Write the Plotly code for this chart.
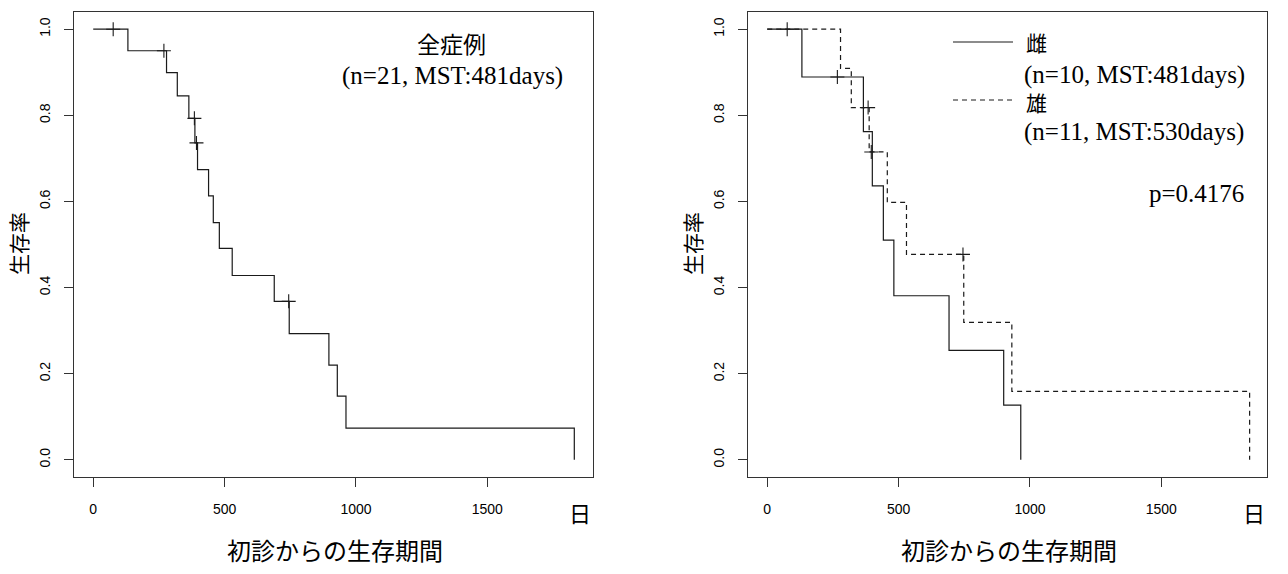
import plotly.graph_objects as go

# ---------------- data ----------------
# Left panel: all cases (n=21)
all_times = [0, 132, 279, 320, 364, 387, 397, 439, 457, 480, 529, 689, 746, 897, 929, 962, 1831]
all_surv = [1.0, 0.950, 0.899, 0.845, 0.793, 0.736, 0.674, 0.613, 0.551, 0.491, 0.428, 0.368, 0.293, 0.220, 0.148, 0.0735, 0.0]
all_cens_t = [76, 269, 385, 393, 744]
all_cens_s = [1.0, 0.950, 0.793, 0.736, 0.368]

# Right panel: female (solid)
fem_times = [0, 132, 366, 400, 442, 482, 692, 900, 965]
fem_surv = [1.0, 0.889, 0.762, 0.636, 0.510, 0.381, 0.254, 0.127, 0.0]
fem_cens_t = [76, 267]
fem_cens_s = [1.0, 0.889]

# Right panel: male (dashed)
male_times = [0, 279, 320, 388, 457, 530, 748, 931, 1836]
male_surv = [1.0, 0.909, 0.818, 0.715, 0.598, 0.477, 0.319, 0.159, 0.0]
male_cens_t = [384, 396, 745]
male_cens_s = [0.818, 0.715, 0.477]

x_ticks = [0, 500, 1000, 1500]
y_ticks = [0.0, 0.2, 0.4, 0.6, 0.8, 1.0]

left_title = "全症例"
left_sub = "(n=21, MST:481days)"
fem_label = "雌"
fem_sub = "(n=10, MST:481days)"
male_label = "雄"
male_sub = "(n=11, MST:530days)"
p_text = "p=0.4176"
x_title = "初診からの生存期間"
y_title = "生存率"
unit = "日"

# ---------------- layout helpers ----------------
W, H = 1288, 574
def fx(x):
    return x / W
def fy(y):
    return 1 - y / H

INK = "#1a1a1a"
LW = 1.2
SANS = "Liberation Sans"
SERIF = "Liberation Serif"
CJK = "Noto Sans CJK JP"

fig = go.Figure()

def step(x, y, xa, ya, dash="solid"):
    fig.add_trace(go.Scatter(x=x, y=y, mode="lines", line_shape="hv",
                             line=dict(color=INK, width=LW, dash=dash),
                             xaxis=xa, yaxis=ya, hoverinfo="skip"))

def cens(x, y, xa, ya):
    fig.add_trace(go.Scatter(x=x, y=y, mode="markers",
                             marker=dict(symbol="cross-thin", size=10,
                                         line=dict(color=INK, width=1.1)),
                             xaxis=xa, yaxis=ya, hoverinfo="skip"))

step(all_times, all_surv, "x", "y")
cens(all_cens_t, all_cens_s, "x", "y")
step(fem_times, fem_surv, "x2", "y2")
cens(fem_cens_t, fem_cens_s, "x2", "y2")
step(male_times, male_surv, "x2", "y2", dash="5px,4px")
cens(male_cens_t, male_cens_s, "x2", "y2")

xmax = 1829
xr = [-0.04 * xmax, 1.04 * xmax]
yr = [-0.04, 1.04]

common_x = dict(range=xr, tickvals=x_ticks, ticks="outside", ticklen=9, tickwidth=1,
                tickcolor="#333", showline=True, mirror=True, linecolor="#333", linewidth=1,
                showgrid=False, zeroline=False, ticklabelstandoff=10,
                tickfont=dict(family=SANS, size=14, color="black"), fixedrange=True)
common_y = dict(range=yr, tickvals=y_ticks, tickformat=".1f", ticks="outside", ticklen=9,
                tickwidth=1, tickcolor="#333", showline=True, mirror=True, linecolor="#333",
                linewidth=1, showgrid=False, zeroline=False, tickangle=-90, ticklabelstandoff=8,
                tickfont=dict(family=SANS, size=14, color="black"), fixedrange=True)

fig.update_layout(
    width=W, height=H, margin=dict(l=0, r=0, t=0, b=0, pad=0),
    paper_bgcolor="white", plot_bgcolor="white", showlegend=False,
    xaxis=dict(domain=[fx(74), fx(593)], anchor="y", **common_x),
    yaxis=dict(domain=[fy(477), fy(12)], anchor="x", **common_y),
    xaxis2=dict(domain=[fx(748), fx(1267)], anchor="y2", **common_x),
    yaxis2=dict(domain=[fy(477), fy(12)], anchor="x2", **common_y),
)

ann = []
def text(t, x, y, fam, size, xanchor="center", textangle=0):
    ann.append(dict(text=t, x=fx(x), y=fy(y), xref="paper", yref="paper",
                    showarrow=False, xanchor=xanchor, yanchor="middle",
                    textangle=textangle,
                    font=dict(family=fam, size=size, color="black")))

# left panel texts
text(left_title, 451, 43, CJK, 23)
text(left_sub, 452, 76, SERIF, 25)
# right panel legend + p-value
text(fem_label, 1024, 42, CJK, 21, xanchor="left")
text(fem_sub, 1022, 75, SERIF, 25, xanchor="left")
text(male_label, 1024, 102, CJK, 21, xanchor="left")
text(male_sub, 1022, 132, SERIF, 25, xanchor="left")
text(p_text, 1246, 193, SERIF, 25, xanchor="right")

for off in (0, 674):
    text(x_title, 335 + off, 549, CJK, 24)
    text(y_title, 18 + off, 244, CJK, 21, textangle=-90)
    text(unit, 580 + off, 512, CJK, 22)

fig.update_layout(annotations=ann)

# legend line samples (paper shapes)
fig.add_shape(type="line", xref="paper", yref="paper", x0=fx(953), x1=fx(1013),
              y0=fy(42), y1=fy(42), line=dict(color=INK, width=LW))
fig.add_shape(type="line", xref="paper", yref="paper", x0=fx(953), x1=fx(1012),
              y0=fy(100), y1=fy(100), line=dict(color=INK, width=LW, dash="5px,4px"))

fig.write_html("out.html", config={"displayModeBar": False},
               post_script="document.body.style.margin='0';document.body.style.overflow='hidden';")
